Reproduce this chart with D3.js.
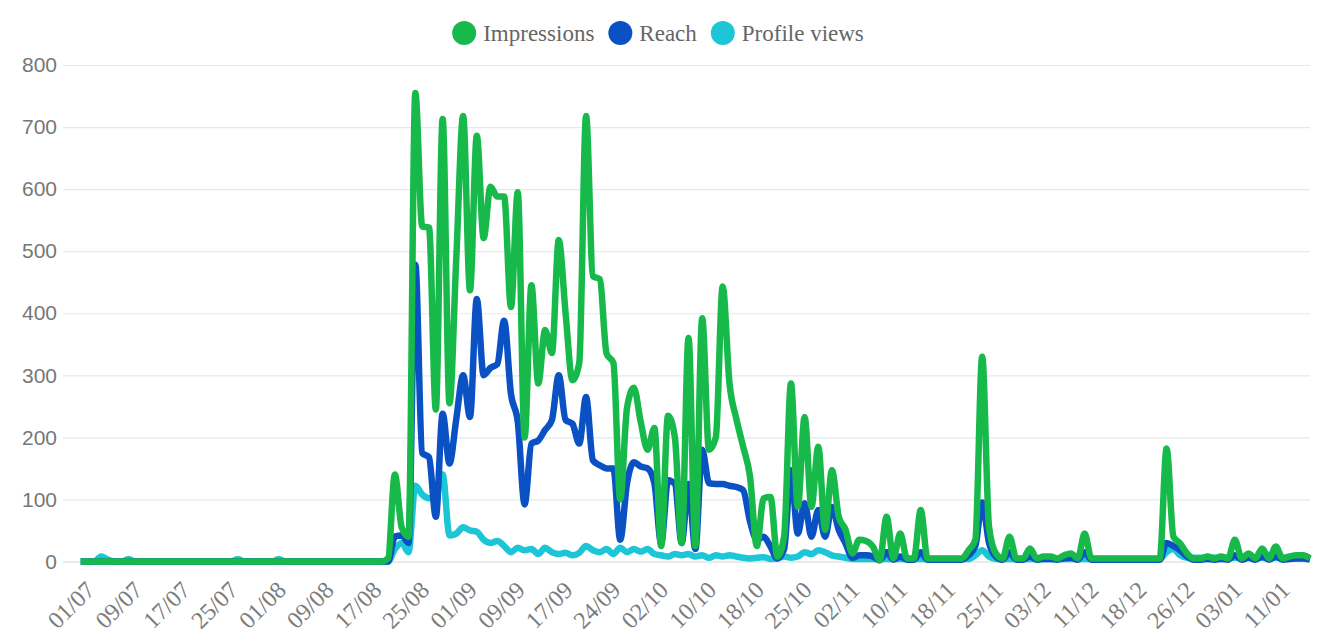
<!DOCTYPE html>
<html>
<head>
<meta charset="utf-8">
<script src="https://cdn.jsdelivr.net/npm/d3@7/dist/d3.min.js"></script>
<style>
  body { margin: 0; background: #fff; }
  svg { display: block; }
</style>
</head>
<body>
<svg id="chart" width="1326" height="644"></svg>
<script>
// one label every 7 points
const tickLabels = ["01/07", "09/07", "17/07", "25/07", "01/08", "09/08", "17/08", "25/08", "01/09",
  "09/09", "17/09", "24/09", "02/10", "10/10", "18/10", "25/10", "02/11", "10/11", "18/11", "25/11",
  "03/12", "11/12", "18/12", "26/12", "03/01", "11/01"];

const impressions = [
  0, 0, 0, 0, 0, 0, 0, 0, 0, 0,
  0, 0, 0, 0, 0, 0, 0, 0, 0, 0,
  0, 0, 0, 0, 0, 0, 0, 0, 0, 0,
  0, 0, 0, 0, 0, 0, 0, 0, 0, 0,
  0, 0, 0, 0, 0, 5, 140, 55, 40, 755,
  540, 538, 245, 713, 255, 490, 718, 437, 686, 521,
  604, 588, 588, 410, 595, 200, 445, 287, 373, 336,
  518, 400, 292, 320, 718, 460, 455, 335, 320, 100,
  248, 280, 225, 180, 215, 25, 235, 200, 30, 360,
  25, 392, 180, 200, 443, 287, 230, 185, 137, 25,
  102, 104, 8, 40, 287, 88, 233, 88, 185, 51,
  147, 72, 51, 13, 35, 33, 24, 2, 72, 5,
  45, 5, 5, 83, 5, 5, 5, 5, 5, 5,
  18, 35, 330, 56, 13, 5, 40, 5, 5, 21,
  5, 8, 8, 5, 10, 13, 5, 45, 5, 5,
  5, 5, 5, 5, 5, 5, 5, 5, 5, 182,
  40, 29, 13, 5, 5, 8, 5, 8, 5, 35,
  5, 13, 5, 21, 5, 24, 5, 8, 10, 10,
  5
];

const reach = [
  0, 0, 0, 0, 0, 0, 0, 0, 0, 0,
  0, 0, 0, 0, 0, 0, 0, 0, 0, 0,
  0, 0, 0, 0, 0, 0, 0, 0, 0, 0,
  0, 0, 0, 0, 0, 0, 0, 0, 0, 0,
  0, 0, 0, 0, 0, 0, 40, 42, 30, 478,
  175, 168, 72, 238, 158, 230, 300, 233, 423, 300,
  312, 318, 388, 270, 225, 92, 190, 195, 212, 228,
  300, 228, 222, 190, 265, 163, 155, 150, 150, 35,
  126, 160, 153, 150, 126, 29, 131, 125, 30, 125,
  20, 180, 126, 125, 125, 122, 120, 115, 65, 35,
  40, 24, 5, 20, 147, 45, 94, 40, 83, 40,
  88, 51, 29, 6, 10, 10, 8, 2, 15, 3,
  8, 3, 3, 15, 3, 3, 3, 3, 3, 3,
  10, 25, 95, 30, 8, 3, 15, 3, 3, 8,
  3, 4, 4, 3, 5, 6, 3, 15, 3, 3,
  3, 3, 3, 3, 3, 3, 3, 3, 3, 30,
  25, 18, 8, 3, 3, 4, 3, 4, 3, 10,
  3, 6, 3, 8, 3, 8, 3, 4, 5, 5,
  3
];

const profileViews = [
  0, 0, 0, 8, 3, 0, 0, 4, 0, 0,
  0, 0, 0, 0, 0, 0, 0, 0, 0, 0,
  0, 0, 0, 4, 0, 0, 0, 0, 0, 4,
  0, 0, 0, 0, 0, 0, 0, 0, 0, 0,
  0, 0, 0, 0, 0, 0, 20, 30, 15, 122,
  108, 102, 105, 140, 42, 45, 55, 50, 48, 35,
  30, 33, 25, 15, 22, 18, 20, 12, 22, 15,
  12, 14, 10, 14, 25, 18, 15, 20, 12, 22,
  15, 20, 16, 20, 12, 10, 8, 12, 10, 12,
  8, 10, 6, 10, 8, 10, 8, 6, 5, 6,
  7, 4, 5, 8, 6, 8, 15, 12, 18, 15,
  10, 8, 6, 4, 4, 4, 4, 4, 4, 4,
  4, 4, 4, 4, 4, 4, 4, 4, 4, 4,
  4, 10, 18, 8, 4, 4, 4, 4, 4, 4,
  4, 4, 4, 4, 4, 4, 4, 4, 4, 4,
  4, 4, 4, 4, 4, 4, 4, 4, 4, 15,
  20, 10, 6, 6, 6, 6, 6, 6, 6, 6,
  6, 6, 6, 6, 6, 6, 6, 6, 6, 6,
  6
];

const yTicks = [0, 100, 200, 300, 400, 500, 600, 700, 800];

const series = [
  { name: "Impressions", values: impressions, color: "#18b94b" },
  { name: "Reach", values: reach, color: "#0a51c4" },
  { name: "Profile views", values: profileViews, color: "#1cc6d6" }
];

const svg = d3.select("#chart");
const plotLeft = 80.7, plotRight = 1310, plotTop = 65, plotBottom = 561.5;

const x = d3.scaleLinear().domain([0, impressions.length - 1]).range([plotLeft, plotRight]);
const y = d3.scaleLinear().domain([0, 800]).range([plotBottom, plotTop]);

// grid + y labels
const yAxis = svg.append("g")
  .attr("transform", "translate(63,0)")
  .call(d3.axisLeft(y).tickValues(yTicks).tickSize(-(plotRight - 63)).tickPadding(6));
yAxis.select(".domain").remove();
yAxis.selectAll(".tick line").attr("stroke", "#e6e9ea").attr("stroke-width", 1.2);
yAxis.selectAll(".tick text")
  .attr("fill", "#777")
  .style("font-family", "'Liberation Sans', Arial, sans-serif")
  .style("font-size", "21px");
yAxis.selectAll(".tick").filter(d => d === 0).select("line").attr("stroke", "#d4d8d8");

// x labels
const xAxis = svg.append("g")
  .attr("transform", `translate(0,${plotBottom})`)
  .call(d3.axisBottom(x)
    .tickValues(tickLabels.map((_, k) => k * 7))
    .tickFormat((d, k) => tickLabels[k])
    .tickSize(0));
xAxis.select(".domain").remove();
xAxis.selectAll(".tick text")
  .attr("fill", "#7c7c7c")
  .style("font-family", "'Liberation Serif', 'Times New Roman', serif")
  .style("font-size", "24px")
  .attr("text-anchor", "end")
  .attr("y", 0)
  .attr("dy", "0.35em")
  .attr("transform", "translate(9,24) rotate(-45)");

// lines (first dataset on top)
const line = d3.line()
  .x((d, i) => x(i))
  .y(d => y(d))
  .curve(d3.curveMonotoneX);

svg.append("g")
  .selectAll("path")
  .data(series.slice().reverse())
  .enter()
  .append("path")
  .attr("d", d => line(d.values))
  .attr("fill", "none")
  .attr("stroke", d => d.color)
  .attr("stroke-width", 6.5)
  .attr("stroke-linejoin", "round");

// legend
const legend = svg.append("g");
const items = legend.selectAll("g")
  .data(series)
  .enter()
  .append("g");
items.append("circle")
  .attr("r", 12)
  .attr("cy", 33)
  .attr("fill", d => d.color);
items.append("text")
  .text(d => d.name)
  .attr("y", 33)
  .attr("dy", "0.35em")
  .attr("fill", "#666")
  .style("font-family", "'Liberation Serif', 'Times New Roman', serif")
  .style("font-size", "23px");

const widths = [];
items.each(function () {
  widths.push(d3.select(this).select("text").node().getComputedTextLength());
});
const total = d3.sum(widths) + series.length * (24 + 7) + (series.length - 1) * 14;
let cursor = 658 - total / 2;
items.each(function (d, i) {
  const g = d3.select(this);
  g.select("circle").attr("cx", cursor + 12);
  g.select("text").attr("x", cursor + 24 + 7);
  cursor += 24 + 7 + widths[i] + 14;
});
</script>
</body>
</html>
